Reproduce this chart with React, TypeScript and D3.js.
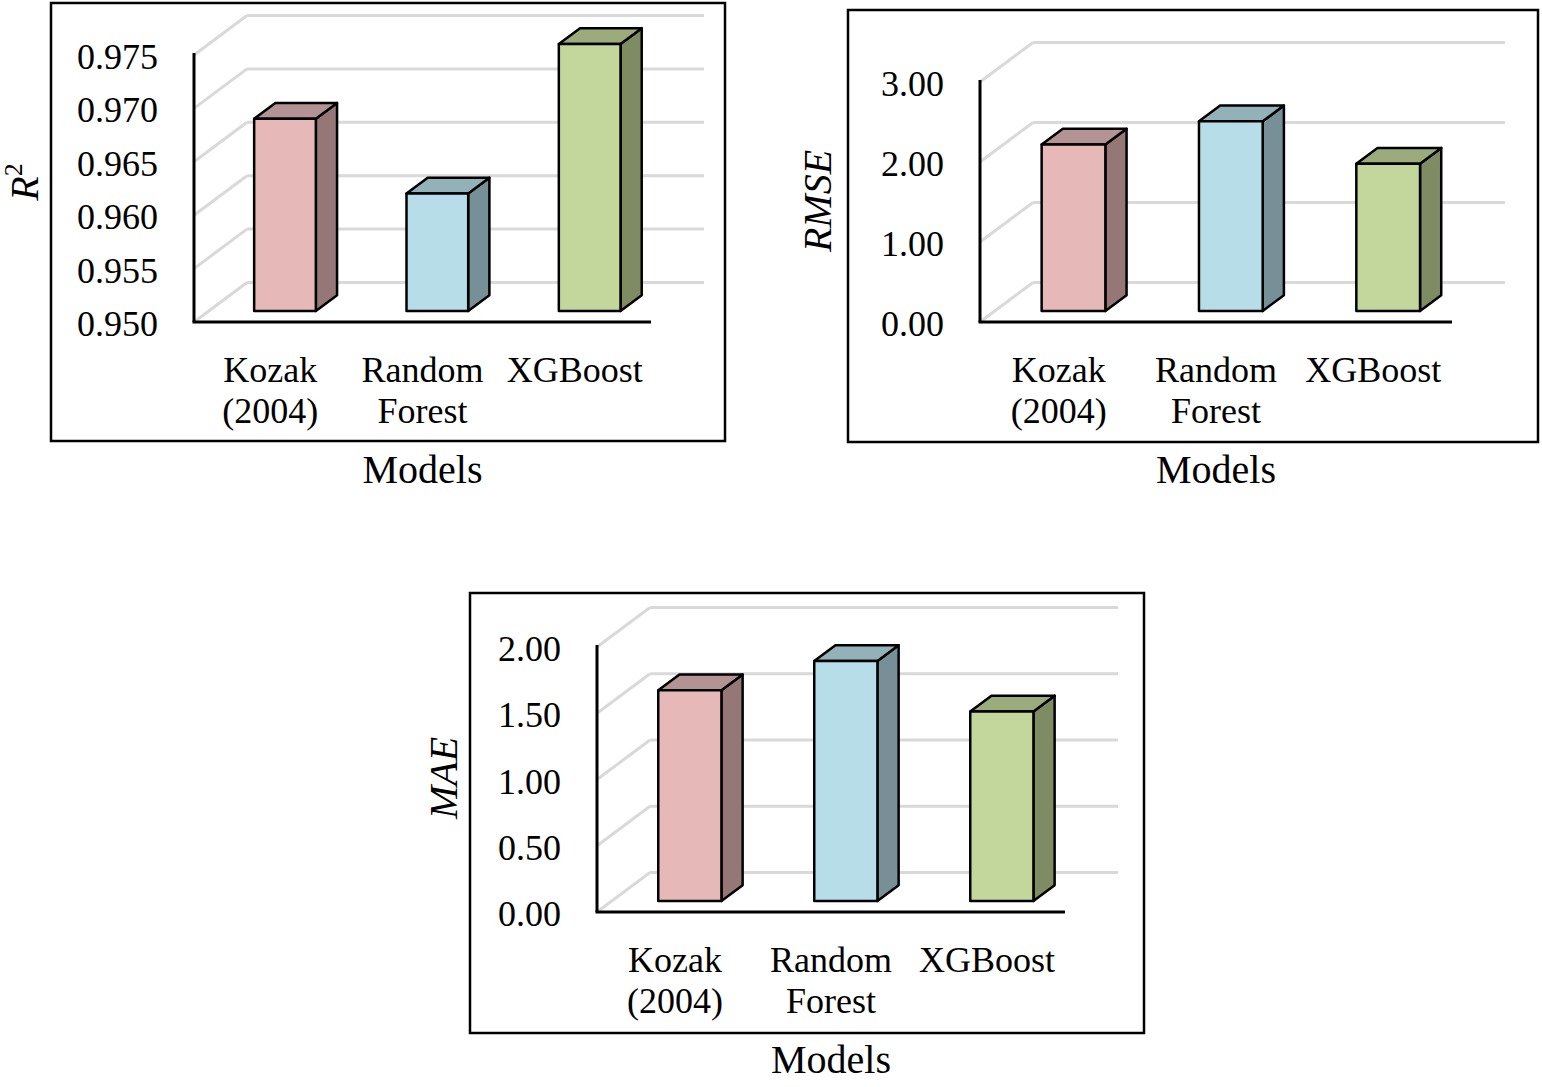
import React, { useRef, useEffect } from "react";
import * as d3 from "d3";

// categories and values
const models = ["Kozak (2004)", "Random Forest", "XGBoost"];
const modelLines = [["Kozak", "(2004)"], ["Random", "Forest"], ["XGBoost"]];

const r2Values = [0.968, 0.961, 0.975];
const rmseValues = [2.08, 2.37, 1.84];
const maeValues = [1.59, 1.81, 1.43];

const r2Ticks = [0.95, 0.955, 0.96, 0.965, 0.97, 0.975];
const rmseTicks = [0, 1, 2, 3];
const maeTicks = [0, 0.5, 1, 1.5, 2];

const frontColors = ["#E6B9B8", "#B7DEE8", "#C3D69B"];
const topColors = ["#B39393", "#93B1B9", "#9CAB7C"];
const sideColors = ["#957777", "#778F96", "#7F8C63"];

const FONT = "'Liberation Serif', 'Times New Roman', serif";

interface PanelSpec {
  values: number[];
  ticks: number[];
  format: string;
  title: string;
  sup?: string;
  box: [number, number, number, number];
  x0: number;
  x1: number;
  yBase: number;
  yTop: number;
  titleX: number;
  titleY: number;
}

const panels: PanelSpec[] = [
  {
    values: r2Values, ticks: r2Ticks, format: ".3f", title: "R", sup: "2",
    box: [51, 3, 725, 441], x0: 194, x1: 651, yBase: 322, yTop: 55, titleX: 38, titleY: 182,
  },
  {
    values: rmseValues, ticks: rmseTicks, format: ".2f", title: "RMSE",
    box: [848, 10, 1538, 442], x0: 980, x1: 1452, yBase: 322, yTop: 82, titleX: 831, titleY: 201,
  },
  {
    values: maeValues, ticks: maeTicks, format: ".2f", title: "MAE",
    box: [470, 593, 1144, 1033], x0: 597, x1: 1065, yBase: 912, yTop: 647, titleX: 457, titleY: 778,
  },
];

// depth of the side/back walls
const DX = 53;
const DY = -39.5;

const drawPanel = (svg: d3.Selection<SVGSVGElement, unknown, null, undefined>, p: PanelSpec) => {
  const g = svg.append("g");
  const [bx0, by0, bx1, by1] = p.box;

  g.append("rect")
    .attr("x", bx0)
    .attr("y", by0)
    .attr("width", bx1 - bx0)
    .attr("height", by1 - by0)
    .attr("fill", "#fff")
    .attr("stroke", "#000")
    .attr("stroke-width", 2.5);

  const y = d3
    .scaleLinear()
    .domain(d3.extent(p.ticks) as [number, number])
    .range([p.yBase, p.yTop]);
  const x = d3.scaleBand<string>().domain(models).range([p.x0, p.x1]);

  // gridlines: side wall diagonals + back wall
  p.ticks.forEach((t) => {
    g.append("line")
      .attr("x1", p.x0)
      .attr("y1", y(t))
      .attr("x2", p.x0 + DX)
      .attr("y2", y(t) + DY)
      .attr("stroke", "#D9D9D9")
      .attr("stroke-width", 3);
    g.append("line")
      .attr("x1", p.x0 + DX)
      .attr("y1", y(t) + DY)
      .attr("x2", p.x1 + DX)
      .attr("y2", y(t) + DY)
      .attr("stroke", "#D9D9D9")
      .attr("stroke-width", 3);
  });

  // axes
  g.append("line")
    .attr("x1", p.x0)
    .attr("y1", p.yTop - 2)
    .attr("x2", p.x0)
    .attr("y2", p.yBase)
    .attr("stroke", "#000")
    .attr("stroke-width", 3);
  g.append("line")
    .attr("x1", p.x0 - 1.5)
    .attr("y1", p.yBase)
    .attr("x2", p.x1)
    .attr("y2", p.yBase)
    .attr("stroke", "#000")
    .attr("stroke-width", 3);

  // tick labels
  const fmt = d3.format(p.format);
  g.selectAll(".tick")
    .data(p.ticks)
    .enter()
    .append("text")
    .attr("x", p.x0 - 36)
    .attr("y", (d) => y(d) + 2)
    .attr("text-anchor", "end")
    .attr("dominant-baseline", "central")
    .attr("font-size", 36)
    .attr("font-family", FONT)
    .text((d) => fmt(d));

  // 3D bars
  const z0 = 0.28;
  const z1 = 0.68;
  const bw = x.bandwidth() * 0.405;
  const ox = (z1 - z0) * DX;
  const oy = (z1 - z0) * DY;
  const yMin = y.domain()[0];

  p.values.forEach((v, i) => {
    const cx = (x(models[i]) ?? 0) + x.bandwidth() / 2 + z0 * DX;
    const xl = cx - bw / 2;
    const xr = cx + bw / 2;
    const yb = y(yMin) + z0 * DY;
    const yt = y(v) + z0 * DY;
    const bar = g.append("g").attr("stroke", "#000").attr("stroke-width", 2.5).attr("stroke-linejoin", "round");
    bar
      .append("path")
      .attr("d", `M${xr},${yt}L${xr + ox},${yt + oy}L${xr + ox},${yb + oy}L${xr},${yb}Z`)
      .attr("fill", sideColors[i]);
    bar
      .append("path")
      .attr("d", `M${xl},${yt}L${xl + ox},${yt + oy}L${xr + ox},${yt + oy}L${xr},${yt}Z`)
      .attr("fill", topColors[i]);
    bar
      .append("rect")
      .attr("x", xl)
      .attr("y", yt)
      .attr("width", bw)
      .attr("height", yb - yt)
      .attr("fill", frontColors[i]);
  });

  // category labels
  models.forEach((m, i) => {
    const cx = (x(m) ?? 0) + x.bandwidth() / 2;
    const t = g
      .append("text")
      .attr("text-anchor", "middle")
      .attr("font-size", 36)
      .attr("font-family", FONT);
    modelLines[i].forEach((line, k) => {
      t.append("tspan")
        .attr("x", cx)
        .attr("y", p.yBase + 60 + k * 41)
        .text(line);
    });
  });

  // x title
  g.append("text")
    .attr("x", (p.x0 + p.x1) / 2)
    .attr("y", p.yBase + 161)
    .attr("text-anchor", "middle")
    .attr("font-size", 40)
    .attr("font-family", FONT)
    .text("Models");

  // y title
  const yt = g
    .append("text")
    .attr("transform", `translate(${p.titleX},${p.titleY}) rotate(-90)`)
    .attr("text-anchor", "middle")
    .attr("font-size", 40)
    .attr("font-style", "italic")
    .attr("font-family", FONT);
  yt.append("tspan").text(p.title);
  if (p.sup) {
    yt.append("tspan")
      .attr("font-size", 26)
      .attr("dy", -16)
      .attr("font-style", "normal")
      .text(p.sup);
  }
};

const App = () => {
  const ref = useRef<SVGSVGElement | null>(null);

  useEffect(() => {
    if (!ref.current) return;
    const svg = d3.select(ref.current);
    svg.selectAll("*").remove();
    svg.append("rect").attr("width", 1542).attr("height", 1087).attr("fill", "#fff");
    panels.forEach((p) => drawPanel(svg, p));
  }, []);

  return (
    <svg
      ref={ref}
      width={1542}
      height={1087}
      viewBox="0 0 1542 1087"
      style={{ position: "absolute", left: 0, top: 0 }}
    />
  );
};

export default App;
